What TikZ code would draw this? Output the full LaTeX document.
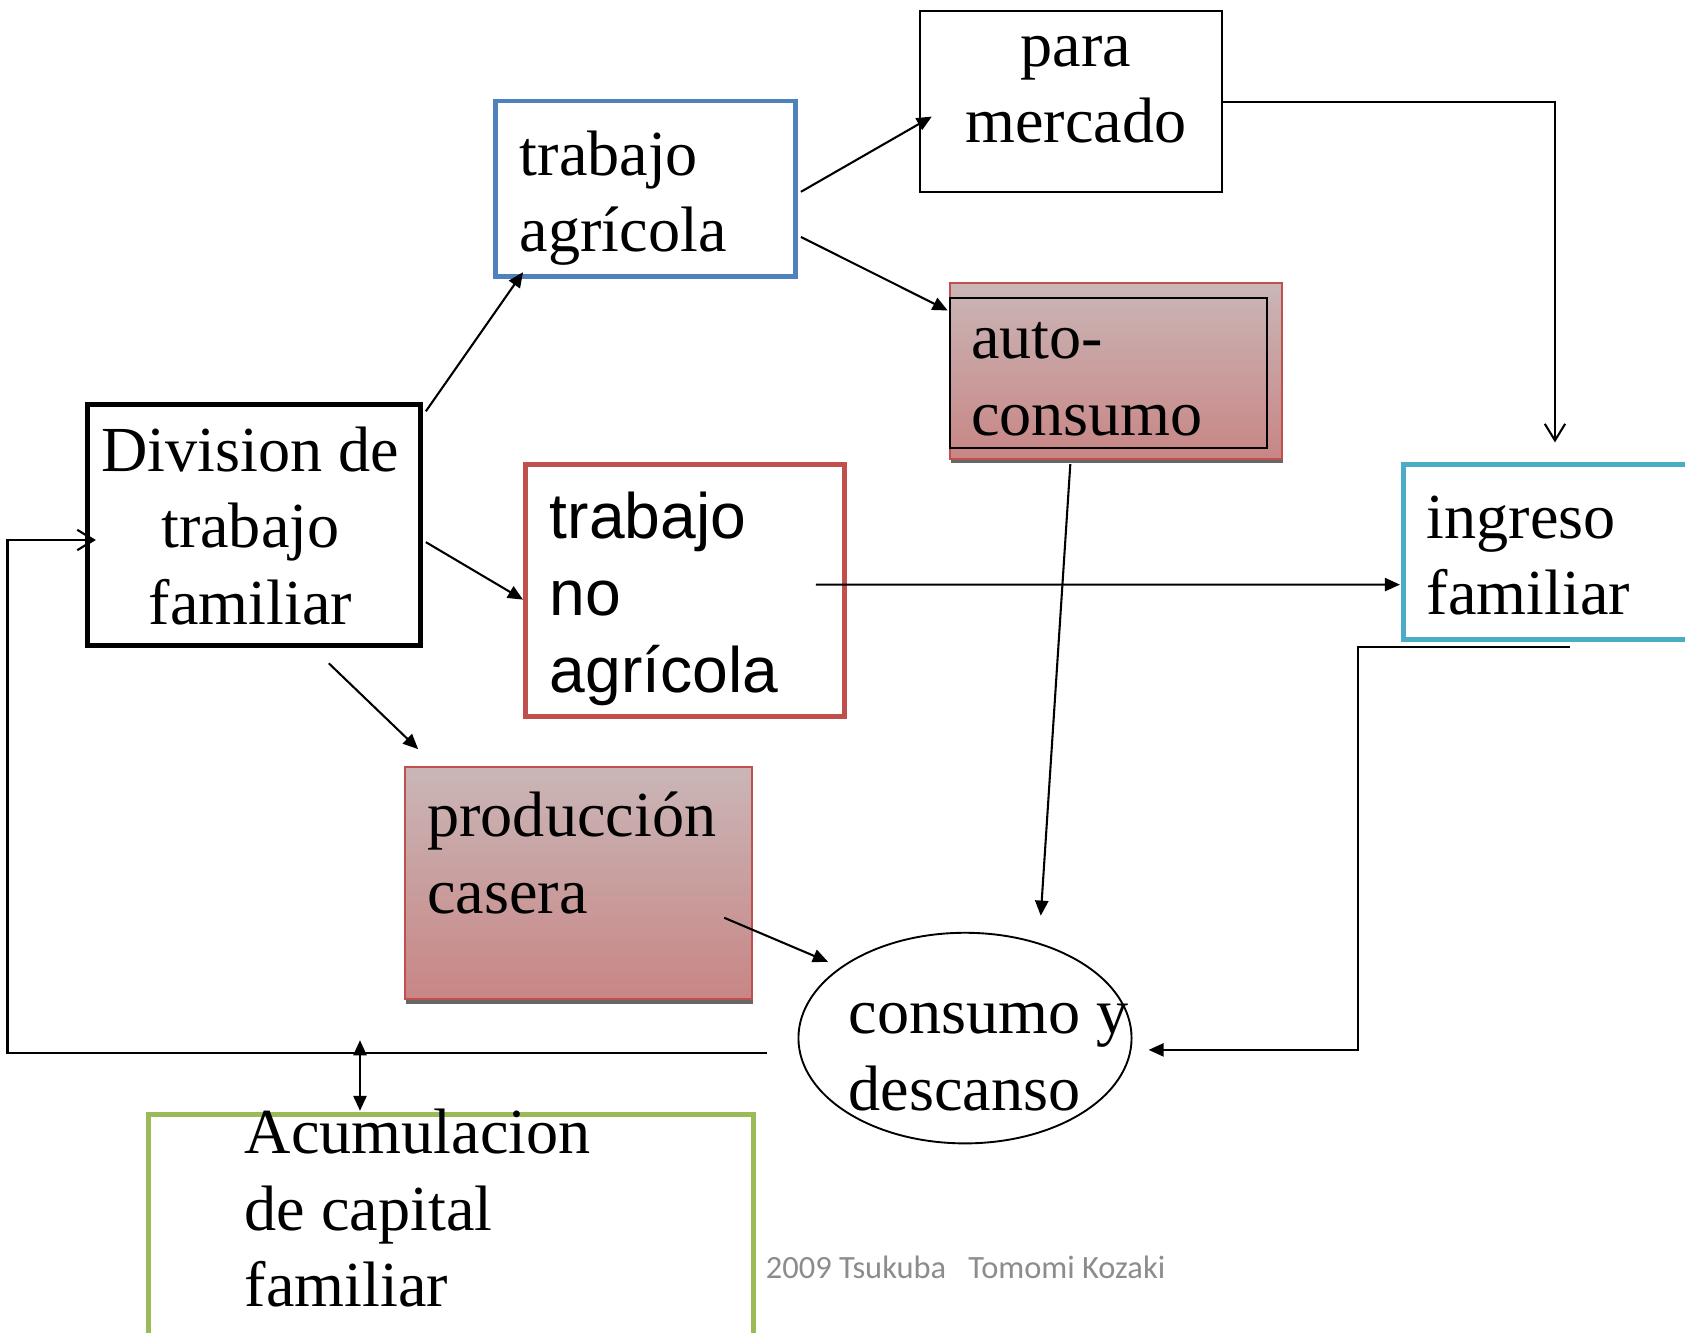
\documentclass[tikz,border=0pt]{standalone}
\usepackage{fontspec}
\setmainfont{Liberation Serif}
\newfontfamily\arialfont{Liberation Sans}
\newfontfamily\calibrifont{Carlito}
\usetikzlibrary{arrows.meta,calc,shadows,shapes.geometric}

\definecolor{agriblue}{HTML}{4F81BD}
\definecolor{boxred}{HTML}{C0504D}
\definecolor{incyan}{HTML}{4BACC6}
\definecolor{capgreen}{HTML}{9BBB59}
\definecolor{shadetop}{RGB}{202,182,183}
\definecolor{shadebot}{RGB}{200,134,133}
\definecolor{footgray}{RGB}{140,140,140}

\begin{document}
\begin{tikzpicture}[x=0.1mm, y=-0.1mm,
box/.style={draw, rectangle, inner sep=0pt},
thickbox/.style={box, line width=1.3pt},
shadebox/.style={box, draw=boxred, line width=0.5pt, top color=shadetop, bottom color=shadebot,
  drop shadow={shadow xshift=0.2pt, shadow yshift=-1.2pt, opacity=0.8, fill=black!75}},
txt/.style={inner sep=0pt, align=left, font=\fontsize{17}{20.3}\selectfont},
link/.style={line width=0.55pt, -{Triangle[length=4pt,width=3.5pt]}},
openlink/.style={line width=0.55pt, -{Straight Barb[length=4.4pt,width=5.4pt]}},
]
\useasboundingbox (0,0) rectangle (1568,1240);

\node[box, line width=0.5pt, minimum width=28.1mm, minimum height=16.9mm] (mercado) at (996.5,94.5) {};
\node[thickbox, draw=agriblue, minimum width=27.9mm, minimum height=16.3mm] (agri) at (600.5,175.5) {};
\node[shadebox, minimum width=30.9mm, minimum height=16.4mm] (auto) at (1038.5,345) {};
\node[box, line width=0.6pt, minimum width=29.5mm, minimum height=14mm] (autoin) at (1031.5,347) {};
\node[thickbox, minimum width=31mm, minimum height=22.5mm] (div) at (236,488.5) {};
\node[thickbox, draw=boxred, minimum width=29.7mm, minimum height=23.5mm] (noagri) at (637.5,549.5) {};
\node[thickbox, draw=incyan, minimum width=31.4mm, minimum height=16.3mm] (ingreso) at (1463,513.5) {};
\node[shadebox, minimum width=32.3mm, minimum height=21.6mm] (prod) at (538.5,822) {};
\node[draw, ellipse, line width=0.5pt, inner sep=0pt, minimum width=31mm, minimum height=19.6mm] (cons) at (898,966) {};
\node[thickbox, draw=capgreen, minimum width=56.3mm, minimum height=26.3mm] (acum) at (419.5,1168.5) {};

% texts, placed by the baseline of their last line
\node[txt, anchor=base, align=center] (t-mercado) at (1001,133) {para\\mercado};
\node[txt, anchor=base west] (t-agri) at (483,234.5) {trabajo\\agrícola};
\node[txt, anchor=base west] (t-auto) at (903,405) {auto-\\consumo};
\node[txt, anchor=base, align=center] (t-div) at (233,581) {Division de\\trabajo\\familiar};
\node[txt, anchor=base west, font=\arialfont\fontsize{17}{20.3}\selectfont] (t-noagri) at (511,644) {trabajo\\no\\agrícola};
\node[txt, anchor=base west] (t-ingreso) at (1327,572) {ingreso\\familiar};
\node[txt, anchor=base west] (t-prod) at (397,850) {producción\\casera};
\node[txt, anchor=base west] (t-cons) at (789,1033) {consumo y\\descanso};
\node[txt, anchor=base west] (t-acum) at (227,1216) {Acumulacion\\de capital\\familiar};
\node[anchor=base west, inner sep=0pt, text=footgray, font=\calibrifont\fontsize{8.6}{10}\selectfont] (foot) at (712,1190) {2009 Tsukuba\ \ \ Tomomi Kozaki};

\draw[link] ($(div.north east)+(3,9)$) -- ($(agri.south west)+(28,-6)$);
\draw[link] ($(div.east)+(3,16)$) -- ($(noagri.west)+(0,8.5)$);
\draw[link] ($(div.south)+(70,14)$) -- ($(prod.north west)+(13,-16)$);
\draw[link] ($(agri.east)+(3,3)$) -- ($(mercado.west)+(12,14)$);
\draw[link] ($(agri.east)+(3,45)$) -- ($(autoin.north west)+(-1,13)$);
\draw[link] ($(auto.south)+(-42.5,4)$) -- ($(cons.north)+(70.5,-15)$);
\draw[link] ($(prod.east)+(-27,32)$) -- ($(cons.center)+(-127.5,-71)$);
\draw[link] ($(noagri.east)+(-29,-5.5)$) -- ($(ingreso.west)+(-1,30.5)$);
\draw[openlink] (mercado.east) -| ($(ingreso.north)+(-16,-18)$);
\coordinate (ret) at (1264,977);
\draw[link] ($(ingreso.south)+(-2,5)$) -| (ret) -- ($(cons.east)+(15,11)$);
\coordinate (back) at (7,980);
\draw[openlink] ($(cons.west)+(-28,14)$) -- (back) |- ($(div.west)+(10.5,14)$);
\coordinate (acc) at (335,968);
\draw[line width=0.55pt, {Triangle[length=4pt,width=3.5pt]}-{Triangle[length=4pt,width=3.5pt]}] (acc) -- ($(acum.north)+(-84.5,-1)$);
\end{tikzpicture}
\end{document}
